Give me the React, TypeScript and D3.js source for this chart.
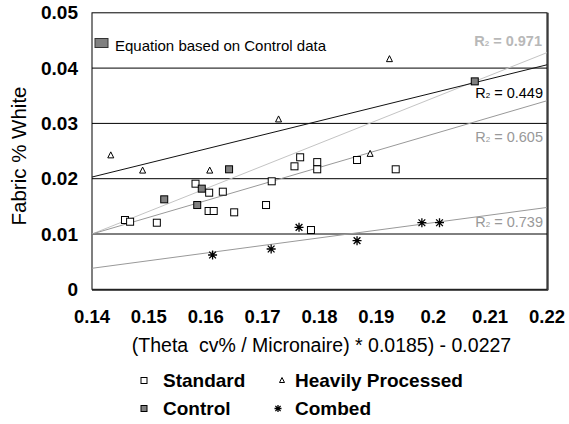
import React from "react";
import * as d3 from "d3";

const xTicks = [0.14, 0.15, 0.16, 0.17, 0.18, 0.19, 0.2, 0.21, 0.22];
const xTickLabels = ["0.14", "0.15", "0.16", "0.17", "0.18", "0.19", "0.2", "0.21", "0.22"];
const yTicks = [0, 0.01, 0.02, 0.03, 0.04, 0.05];
const yTickLabels = ["0", "0.01", "0.02", "0.03", "0.04", "0.05"];

const standardX = [0.1458, 0.1467, 0.1514, 0.1582, 0.1605, 0.1614, 0.1606, 0.163, 0.165, 0.1706, 0.1716, 0.1756, 0.1766, 0.1785, 0.1796, 0.1796, 0.1866, 0.1934];
const standardY = [0.01253, 0.01222, 0.01204, 0.0191, 0.01416, 0.01416, 0.01747, 0.01765, 0.01392, 0.01524, 0.01953, 0.02224, 0.02387, 0.01072, 0.023, 0.0217, 0.02338, 0.0217];

const heavyX = [0.1433, 0.1489, 0.1607, 0.1728, 0.1889, 0.1923];
const heavyY = [0.0242, 0.02145, 0.02145, 0.0307, 0.02447, 0.0416];

const controlX = [0.1527, 0.1585, 0.1593, 0.1641, 0.2073];
const controlY = [0.01627, 0.01524, 0.0182, 0.0217, 0.0376];

const combedX = [0.1612, 0.1715, 0.1764, 0.1866, 0.198, 0.2011];
const combedY = [0.0062, 0.00729, 0.01121, 0.00879, 0.01204, 0.01204];

const trendX = [0.14, 0.22];
const heavyTrend = [0.0203, 0.0406];
const controlTrend = [0.01, 0.0428];
const standardTrend = [0.01, 0.0341];
const combedTrend = [0.0038, 0.0148];

const r2Labels = ["0.971", "0.449", "0.605", "0.739"];

const W = 569, H = 424;
const L = 92, R = 547, T = 12.8, B = 289.3;

export default function App() {
  const x = d3.scaleLinear().domain([0.14, 0.22]).range([L, R]);
  const y = d3.scaleLinear().domain([0, 0.05]).range([B, T]);
  const line = d3.line<number>().x((_, i) => x(trendX[i])).y((d) => y(d));

  const sq = (cx: number, cy: number, s: number, fill: string, key: any) => (
    <rect key={key} x={cx - s / 2} y={cy - s / 2} width={s} height={s} fill={fill} stroke="#000" strokeWidth={1} />
  );
  const tri = (cx: number, cy: number, s: number, key: any) => (
    <path key={key} d={`M${cx},${cy - s * 0.6}L${cx + s / 2},${cy + s * 0.4}L${cx - s / 2},${cy + s * 0.4}Z`} fill="#fff" stroke="#000" strokeWidth={1} />
  );
  const star = (cx: number, cy: number, s: number, key: any) => {
    const h = s / 2;
    const d = `M${cx - h},${cy}L${cx + h},${cy}M${cx},${cy - h}L${cx},${cy + h}M${cx - h * 0.75},${cy - h * 0.75}L${cx + h * 0.75},${cy + h * 0.75}M${cx - h * 0.75},${cy + h * 0.75}L${cx + h * 0.75},${cy - h * 0.75}`;
    return <path key={key} d={d} stroke="#000" strokeWidth={1.3} fill="none" />;
  };

  const r2 = (val: string, xx: number, yy: number, color: string, bold: boolean) => (
    <text x={xx} y={yy} textAnchor="end" fill={color} fontSize={14.5} fontWeight={bold ? "bold" : "normal"}>
      R<tspan fontSize={8}>2</tspan> = {val}
    </text>
  );

  return (
    <div style={{ position: "absolute", left: 0, top: 0 }}>
      <svg width={W} height={H} style={{ display: "block" }} fontFamily="Liberation Sans, Arial, sans-serif">
        <rect width={W} height={H} fill="#fff" />
        {yTicks.slice(1, -1).map((t) => (
          <line key={t} x1={L} x2={R} y1={y(t)} y2={y(t)} stroke="#000" strokeWidth={1} />
        ))}
        <line x1={R + 1} x2={R + 1} y1={T} y2={B + 1} stroke="#777" strokeWidth={2} />
        <line x1={L} x2={R + 1} y1={B + 1} y2={B + 1} stroke="#555" strokeWidth={1.5} />
        <rect x={L} y={T} width={R - L} height={B - T} fill="none" stroke="#000" strokeWidth={1} />

        <path d={line(controlTrend) || ""} stroke="#c4c4c4" strokeWidth={1} fill="none" />
        <path d={line(standardTrend) || ""} stroke="#999" strokeWidth={1} fill="none" />
        <path d={line(combedTrend) || ""} stroke="#999" strokeWidth={1} fill="none" />
        <path d={line(heavyTrend) || ""} stroke="#111" strokeWidth={1} fill="none" />

        {standardX.map((v, i) => sq(x(v), y(standardY[i]), 7, "#fff", "s" + i))}
        {controlX.map((v, i) => sq(x(v), y(controlY[i]), 7, "#808080", "c" + i))}
        {heavyX.map((v, i) => tri(x(v), y(heavyY[i]), 6, "h" + i))}
        {combedX.map((v, i) => star(x(v), y(combedY[i]), 9, "b" + i))}

        {r2(r2Labels[0], 542, 45.5, "#b8b8b8", true)}
        {r2(r2Labels[1], 543, 98, "#000", false)}
        {r2(r2Labels[2], 543, 141.5, "#999", false)}
        {r2(r2Labels[3], 543, 227, "#999", false)}

        <rect x={95} y={38.5} width={13} height={9} fill="#808080" stroke="#333" strokeWidth={1} />
        <text x={115} y={50.5} fontSize={15}>Equation based on Control data</text>

        {yTicks.map((t, i) => (
          <text key={t} x={78} y={y(t) + 6.5} textAnchor="end" fontSize={19} fontWeight="bold">{yTickLabels[i]}</text>
        ))}
        {xTicks.map((t, i) => (
          <text key={t} x={x(t)} y={323} textAnchor="middle" fontSize={18.5} fontWeight="bold">{xTickLabels[i]}</text>
        ))}
        <text x={321.5} y={352} textAnchor="middle" fontSize={19.5} style={{ whiteSpace: "pre" }}>{"(Theta\u00a0 cv% / Micronaire) * 0.0185) - 0.0227"}</text>
        <text transform="translate(26,156) rotate(-90)" textAnchor="middle" fontSize={20.5}>Fabric % White</text>

        {sq(144, 380.5, 6, "#fff", "l1")}
        <text x={163} y={387} fontSize={19} fontWeight="bold">Standard</text>
        {tri(282, 380.5, 5, "l2")}
        <text x={295} y={387} fontSize={19} fontWeight="bold">Heavily Processed</text>
        {sq(144, 408.5, 6, "#808080", "l3")}
        <text x={163} y={415} fontSize={19} fontWeight="bold">Control</text>
        {star(278, 408.5, 7, "l4")}
        <text x={295} y={415} fontSize={19} fontWeight="bold">Combed</text>
      </svg>
    </div>
  );
}
